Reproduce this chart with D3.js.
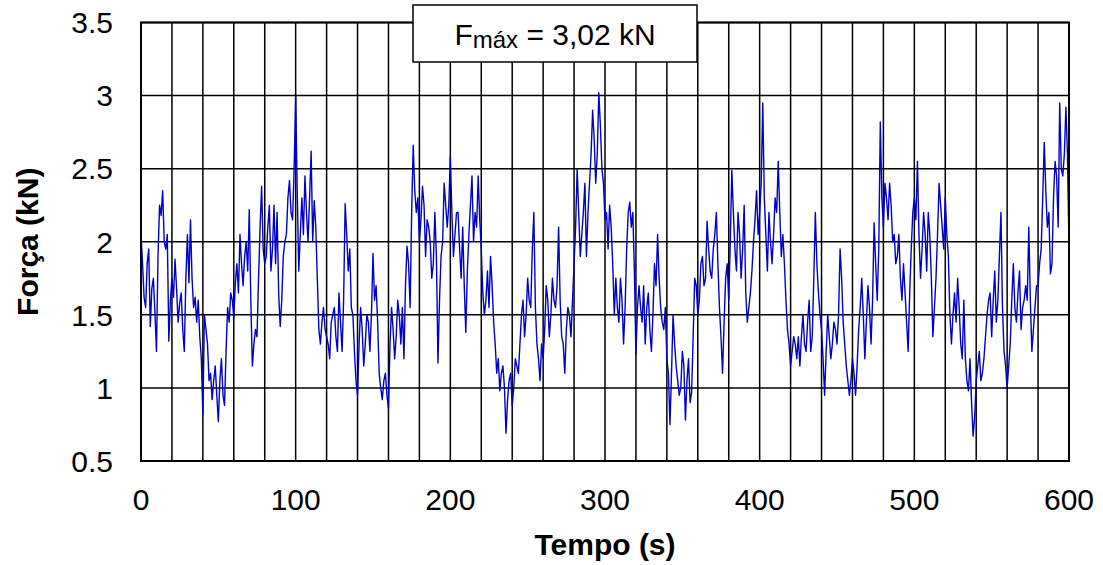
<!DOCTYPE html>
<html>
<head>
<meta charset="utf-8">
<script src="https://cdn.jsdelivr.net/npm/d3@7/dist/d3.min.js"></script>
<style>
  html, body { margin: 0; padding: 0; background: #fff; }
  svg { display: block; }
  text { font-family: Arial, "Liberation Sans", sans-serif; fill: #000; }
</style>
</head>
<body>
<svg id="chart" width="1103" height="565"></svg>
<script>
// ---- data ----
// force at even seconds: 0, 2, 4, ... 600
const forceEvenSeconds = [
  // 0 - 76 s
  2.05,1.62,1.85,1.42,1.75,1.25,2.25,2.35,1.95,1.32,1.75,1.88,1.45,1.65,1.25,2.05,2.15,1.55,1.45,1.35,
  0.82,1.40,1.05,0.92,1.15,0.77,1.20,0.88,1.55,1.65,1.48,1.85,2.05,1.70,2.00,2.22,1.15,1.40,1.75,
  // 78 - 154 s
  2.38,1.85,2.10,1.80,2.25,2.20,1.42,1.90,2.05,2.42,2.15,3.00,1.80,2.30,2.45,2.00,2.62,2.28,1.75,1.30,
  1.55,1.35,1.20,1.50,1.35,1.65,1.25,2.26,1.80,1.55,1.25,0.95,1.55,1.15,1.50,1.25,1.92,1.70,1.10,
  // 156 - 230 s
  0.92,1.10,0.86,1.55,1.20,1.60,1.30,1.20,1.97,1.55,2.66,2.20,2.00,2.38,1.90,2.10,1.75,2.20,1.17,1.90,
  2.40,2.10,2.58,1.90,2.20,1.95,2.10,1.38,2.05,2.45,2.20,2.45,1.95,1.50,1.80,1.90,1.45,1.10,
  // 232 - 306 s
  0.98,1.15,0.69,1.05,0.88,1.20,1.10,1.50,1.35,1.75,1.55,2.20,1.30,1.05,1.20,1.70,1.35,1.75,1.55,2.10,
  1.35,1.10,1.55,1.35,1.85,2.50,1.90,2.20,1.90,2.40,2.90,2.40,3.02,2.50,2.15,1.95,2.10,1.50,
  // 308 - 384 s
  1.55,1.75,1.30,1.95,2.27,2.20,1.23,1.70,1.45,1.30,1.65,1.25,1.85,2.05,1.55,1.40,1.20,0.75,1.50,1.15,
  0.95,1.25,0.78,1.20,0.97,1.75,1.50,1.85,1.70,2.14,1.80,1.95,2.20,1.55,1.10,1.75,1.60,2.49,1.95,
  // 386 - 460 s
  2.20,1.75,2.25,1.45,1.65,2.00,2.35,2.20,2.95,2.05,2.20,1.85,2.30,2.55,1.90,1.85,1.40,1.15,1.35,1.20,
  1.15,1.50,1.25,1.60,1.35,2.20,1.65,1.40,0.95,1.50,1.20,1.45,1.30,1.95,1.45,1.15,0.95,1.20,
  // 462 - 536 s
  0.95,1.40,1.75,1.20,1.70,1.30,2.13,1.60,2.82,2.10,2.30,2.40,2.00,1.85,2.05,1.60,1.65,1.25,1.95,2.30,
  2.55,1.75,2.20,1.80,2.05,1.35,1.75,2.40,2.10,2.30,1.90,1.30,1.65,1.75,1.30,1.60,1.05,1.20,
  // 538 - 600 s
  0.67,1.05,1.25,1.10,1.35,1.60,1.35,1.80,1.60,2.20,1.25,1.00,1.30,1.85,1.45,1.80,1.55,1.70,2.10,1.25,
  1.55,1.70,1.95,2.68,2.10,1.78,2.30,2.45,2.95,2.45,2.92,1.97
];
// force at odd seconds: 1, 3, 5, ... 599
const forceOddSeconds = [
  // 1 - 75 s
  1.85,1.55,1.95,1.68,1.52,1.90,2.18,2.00,2.05,1.60,1.62,1.68,1.58,1.40,1.75,1.72,1.75,1.62,1.60,1.20,
  1.50,1.30,1.10,1.05,0.95,1.05,0.95,1.25,1.45,1.60,1.72,1.65,1.85,1.90,1.80,1.60,1.30,1.35,
  // 77 - 153 s
  2.10,1.95,1.90,2.25,1.95,1.85,1.65,1.60,2.00,2.30,2.20,2.50,2.35,2.05,2.05,2.20,2.30,2.00,2.10,1.40,
  1.45,1.40,1.30,1.45,1.55,1.25,1.45,1.60,2.05,1.95,1.50,1.05,1.30,1.40,1.30,1.45,1.50,1.60,1.45,
  // 155 - 229 s
  1.00,1.05,0.95,1.30,1.40,1.35,1.50,1.55,1.70,1.85,2.20,2.35,2.30,2.15,2.25,2.15,2.00,1.85,1.90,1.60,
  2.00,2.25,2.25,2.20,2.05,2.20,1.75,1.70,1.80,2.25,2.00,2.10,2.15,1.65,1.60,1.55,1.70,1.30,
  // 231 - 305 s
  1.20,1.10,1.00,0.92,1.10,1.00,1.15,1.30,1.60,1.50,1.60,1.95,1.55,1.20,1.30,1.40,1.60,1.50,1.60,1.70,
  1.60,1.30,1.40,1.50,1.60,2.10,2.20,2.05,2.40,2.20,2.60,2.70,2.60,2.80,2.40,2.20,2.25,1.85,
  // 307 - 383 s
  1.75,1.45,1.60,1.55,2.20,2.10,1.80,1.55,1.55,1.70,1.55,1.40,1.50,1.70,1.75,1.45,1.55,1.10,1.10,1.30,
  1.05,1.00,1.15,1.05,0.90,1.35,1.70,1.60,1.90,1.75,1.95,1.75,2.05,1.85,1.35,1.45,1.85,2.00,2.20,
  // 385 - 459 s
  1.80,2.05,1.95,1.65,1.55,1.80,2.15,2.05,2.40,2.30,1.80,2.00,2.05,2.20,2.20,2.05,1.60,1.30,1.25,1.30,
  1.35,1.35,1.30,1.45,1.25,1.75,1.85,1.50,1.20,1.25,1.35,1.30,1.40,1.50,1.75,1.30,1.05,1.05,
  // 461 - 535 s
  1.10,1.15,1.55,1.50,1.45,1.55,1.60,1.85,1.95,2.30,2.40,2.15,2.25,2.05,1.90,1.75,1.85,1.45,1.65,2.20,
  2.15,2.05,1.95,2.05,2.20,1.75,1.55,2.05,2.25,1.95,2.05,1.50,1.50,1.45,1.55,1.20,1.20,0.98,
  // 537 - 599 s
  0.90,0.80,1.15,1.05,1.20,1.50,1.65,1.60,1.45,1.90,1.55,1.15,1.15,1.60,1.55,1.65,1.40,1.60,1.60,1.60,
  1.40,1.70,1.85,2.30,2.35,2.20,1.85,2.55,2.10,2.50,2.60,2.60
];

const xTicks = [0, 100, 200, 300, 400, 500, 600];
const xGridStep = 20;
const yTicks = [0.5, 1, 1.5, 2, 2.5, 3, 3.5];
const yTickLabels = ["0.5", "1", "1.5", "2", "2.5", "3", "3.5"];
const xTitle = "Tempo (s)";
const yTitle = "Força (kN)";
const maxLabel = { main: "F", sub: "máx", rest: " = 3,02 kN" };

// interleave the two sample sets into one time series
const series = [];
forceEvenSeconds.forEach((v, i) => {
  series.push({ t: 2 * i, f: v });
  if (i < forceOddSeconds.length) series.push({ t: 2 * i + 1, f: forceOddSeconds[i] });
});

// ---- layout ----
const svg = d3.select("#chart");
const plot = { left: 141, right: 1069, top: 22.5, bottom: 461 };

const x = d3.scaleLinear().domain([0, 600]).range([plot.left, plot.right]);
const y = d3.scaleLinear().domain([0.5, 3.5]).range([plot.bottom, plot.top]);

svg.append("rect").attr("width", 1103).attr("height", 565).attr("fill", "#fff");

// grid
const gx = d3.range(0, 600 + 1e-9, xGridStep);
svg.append("g").selectAll("line").data(gx).join("line")
  .attr("x1", d => x(d)).attr("x2", d => x(d))
  .attr("y1", plot.top).attr("y2", plot.bottom)
  .attr("stroke", "#000").attr("stroke-width", 1.5);
svg.append("g").selectAll("line").data(yTicks).join("line")
  .attr("x1", plot.left).attr("x2", plot.right)
  .attr("y1", d => y(d)).attr("y2", d => y(d))
  .attr("stroke", "#000").attr("stroke-width", 1.5);

// data line
const line = d3.line().x(d => x(d.t)).y(d => y(d.f));
svg.append("path").datum(series)
  .attr("d", line)
  .attr("fill", "none")
  .attr("stroke", "#0000cc")
  .attr("stroke-width", 1.4)
  .attr("stroke-linejoin", "round");

// frame
svg.append("rect")
  .attr("x", plot.left).attr("y", plot.top)
  .attr("width", plot.right - plot.left).attr("height", plot.bottom - plot.top)
  .attr("fill", "none").attr("stroke", "#000").attr("stroke-width", 2);

// y tick labels
svg.append("g").selectAll("text").data(yTicks).join("text")
  .attr("x", 113).attr("y", d => y(d)).attr("dy", "0.36em")
  .attr("text-anchor", "end").attr("font-size", 30)
  .text((d, i) => yTickLabels[i]);

// x tick labels
svg.append("g").selectAll("text").data(xTicks).join("text")
  .attr("x", d => x(d)).attr("y", 510)
  .attr("text-anchor", "middle").attr("font-size", 30)
  .text(d => d);

// axis titles
svg.append("text")
  .attr("x", (plot.left + plot.right) / 2).attr("y", 555)
  .attr("text-anchor", "middle").attr("font-size", 30).attr("font-weight", "bold")
  .text(xTitle);
svg.append("text")
  .attr("transform", `translate(38, ${(plot.top + plot.bottom) / 2}) rotate(-90)`)
  .attr("text-anchor", "middle").attr("font-size", 30).attr("font-weight", "bold")
  .text(yTitle);

// max-force box
svg.append("rect")
  .attr("x", 413).attr("y", 5).attr("width", 284).attr("height", 57)
  .attr("fill", "#fff").attr("stroke", "#000").attr("stroke-width", 1.5);
const bt = svg.append("text").attr("x", 555).attr("y", 45)
  .attr("text-anchor", "middle").attr("font-size", 30);
bt.append("tspan").text(maxLabel.main);
bt.append("tspan").attr("font-size", 24).attr("dy", 3).text(maxLabel.sub);
bt.append("tspan").attr("dy", -3).text(maxLabel.rest);
</script>
</body>
</html>
